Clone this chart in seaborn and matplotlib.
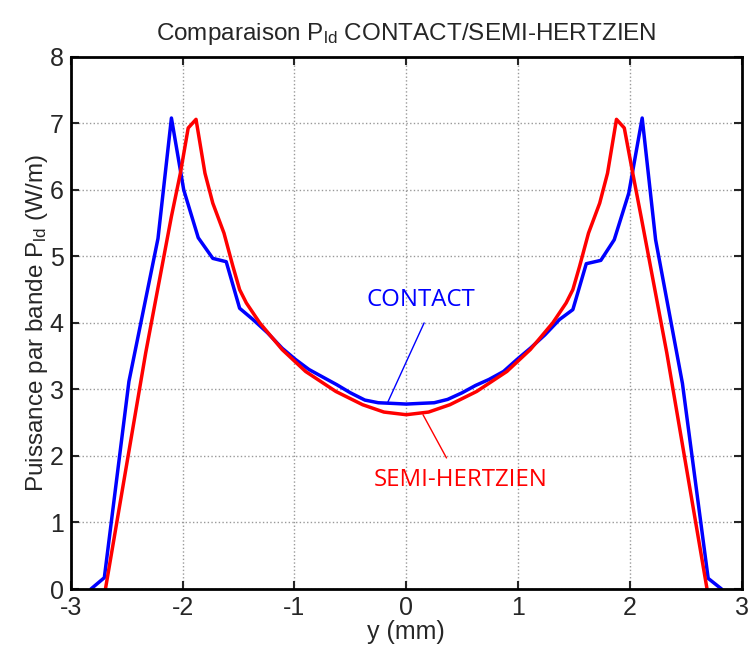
# Comparaison P_ld CONTACT / SEMI-HERTZIEN
import numpy as np
import pandas as pd
import matplotlib
matplotlib.use("Agg")
import matplotlib.pyplot as plt
import seaborn as sns

# CONTACT curve (blue)
y_contact = [-2.82, -2.70, -2.48, -2.22, -2.10, -1.99, -1.86, -1.73, -1.61, -1.49,
             -1.37, -1.24, -1.11, -0.99, -0.87, -0.74, -0.62, -0.50, -0.37, -0.25,
             -0.12, 0.0, 0.12, 0.25, 0.37, 0.50, 0.62, 0.74, 0.87, 0.99,
             1.11, 1.24, 1.37, 1.49, 1.61, 1.74, 1.86, 1.99, 2.11, 2.23,
             2.47, 2.70, 2.82]
p_contact = [0.0, 0.17, 3.12, 5.27, 7.08, 6.0, 5.28, 4.97, 4.92, 4.22,
             4.05, 3.85, 3.62, 3.45, 3.30, 3.18, 3.07, 2.95, 2.84, 2.80,
             2.79, 2.78, 2.79, 2.80, 2.85, 2.95, 3.06, 3.15, 3.27, 3.45,
             3.62, 3.82, 4.05, 4.20, 4.89, 4.94, 5.25, 5.95, 7.08, 5.25,
             3.09, 0.16, 0.0]

# SEMI-HERTZIEN curve (red)
y_semi = [-2.69, -2.33, -2.10, -2.02, -1.95, -1.88, -1.80, -1.73, -1.63, -1.55,
          -1.49, -1.43, -1.31, -1.11, -0.90, -0.63, -0.39, -0.20, 0.0, 0.20,
          0.39, 0.63, 0.90, 1.11, 1.31, 1.43, 1.49, 1.55, 1.63, 1.73,
          1.80, 1.88, 1.95, 2.02, 2.10, 2.33, 2.69]
p_semi = [0.0, 3.55, 5.6, 6.25, 6.93, 7.06, 6.25, 5.8, 5.35, 4.85,
          4.5, 4.3, 4.0, 3.6, 3.27, 2.97, 2.77, 2.66, 2.62, 2.66,
          2.77, 2.97, 3.27, 3.6, 4.0, 4.3, 4.5, 4.85, 5.35, 5.8,
          6.25, 7.06, 6.93, 6.3, 5.6, 3.55, 0.0]

x_ticks = [-3, -2, -1, 0, 1, 2, 3]
y_ticks = [0, 1, 2, 3, 4, 5, 6, 7, 8]

df_contact = pd.DataFrame({"y": y_contact, "P": p_contact})
df_semi = pd.DataFrame({"y": y_semi, "P": p_semi})

sns.set_style("white")
plt.rcParams["font.family"] = ["Liberation Sans", "DejaVu Sans"]
plt.rcParams["mathtext.default"] = "regular"
plt.rcParams["axes.unicode_minus"] = False

fig = plt.figure(figsize=(7.53, 6.53), dpi=100)
ax = fig.add_axes([0.094, 0.098, 0.891, 0.815])

sns.lineplot(data=df_contact, x="y", y="P", color="#0000ff", linewidth=2.5,
             estimator=None, sort=False, ax=ax)
sns.lineplot(data=df_semi, x="y", y="P", color="#ff0000", linewidth=2.5,
             estimator=None, sort=False, ax=ax)

ax.set_xlim(-3, 3)
ax.set_ylim(0, 8)
ax.set_xticks(x_ticks)
ax.set_yticks(y_ticks)
ax.tick_params(direction="in", length=6, width=1.5, labelsize=18,
               top=True, right=True, bottom=True, left=True, pad=5)
ax.grid(True, linestyle=":", color="#999999", linewidth=1.0)
for s in ax.spines.values():
    s.set_color("black")
    s.set_linewidth(2)

ax.set_xlabel("y (mm)", fontsize=18, labelpad=0)
ax.set_ylabel("Puissance par bande P$_{ld}$ (W/m)", fontsize=17.5, labelpad=0)
ax.set_title("Comparaison P$_{ld}$ CONTACT/SEMI-HERTZIEN", fontsize=17.5, pad=12)

# curve labels with leader lines
ax.plot([0.16, -0.17], [4.0, 2.79], color="#0000ff", linewidth=1)
ax.text(0.13, 4.35, "CONTACT", color="#0000ff", fontsize=17.3,
        family="Open Sans", ha="center", va="center")
ax.plot([0.15, 0.36], [2.62, 1.97], color="#ff0000", linewidth=1)
ax.text(0.49, 1.64, "SEMI-HERTZIEN", color="#ff0000", fontsize=17.3,
        family="Open Sans", ha="center", va="center")

fig.savefig("out.png", dpi=100)
